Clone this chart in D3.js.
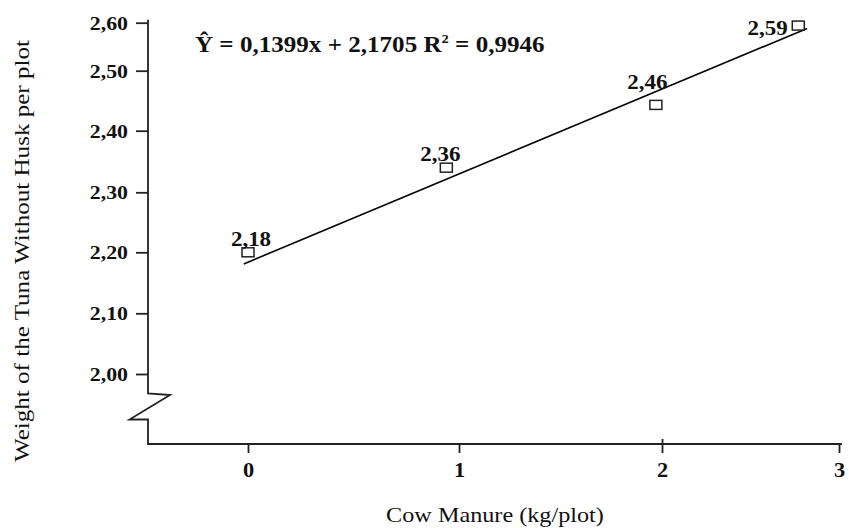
<!DOCTYPE html>
<html>
<head>
<meta charset="utf-8">
<script src="https://cdn.jsdelivr.net/npm/d3@7"></script>
<style>
  html, body { margin: 0; padding: 0; background: #fff; }
  svg { display: block; font-family: 'Liberation Serif', 'Times New Roman', serif; }
</style>
</head>
<body>
<svg class="chart" width="849" height="528"></svg>
<script>
// tick values
const xTicks = [0, 1, 2, 3]
const yTicks = [2.0, 2.1, 2.2, 2.3, 2.4, 2.5, 2.6]

const doses = [0, 0.94, 1.97, 2.77]
const weights = [2.20, 2.34, 2.443, 2.594]
const weightLabels = ['2,18', '2,36', '2,46', '2,59']

// fitted line ends as drawn
const fitX = [-0.02, 2.82]
const fitY = [2.181, 2.588]

const equation = 'Ŷ = 0,1399x + 2,1705 R'
const r2Text = ' = 0,9946'

const stretch = 1.12
const axisX = 148
const axisY = 444

const svg = d3.select('svg.chart')

// the original axes are not evenly spaced, so use piecewise scales
const x = d3.scaleLinear().domain(xTicks).range([248, 459, 662, 839])
const y = d3.scaleLinear().domain(yTicks).range([374, 313.3, 252.3, 192.3, 130.7, 70.7, 22.7])

const widen = (sel, k = stretch) => sel.each(function () {
  const w = this.getComputedTextLength()
  d3.select(this).attr('textLength', w * k).attr('lengthAdjust', 'spacingAndGlyphs')
})

// y axis
const yAxis = d3.axisLeft(y)
  .tickValues(yTicks.slice())
  .tickSize(12)
  .tickFormat(d => d.toFixed(2).replace('.', ','))
const yG = svg.append('g').attr('transform', `translate(${axisX},0)`).call(yAxis)
yG.select('.domain').remove()
yG.selectAll('.tick line').attr('stroke', '#222').attr('stroke-width', 1.8)
yG.selectAll('.tick text')
  .attr('x', -20)
  .attr('dy', '0.34em')
  .attr('fill', '#111')
  .style('font-family', 'Liberation Serif')
  .style('font-size', '19.5px')
  .style('font-weight', 'bold')
  .call(widen)

// x axis
const xAxis = d3.axisBottom(x).tickValues(xTicks).tickSize(9).tickFormat(d3.format('d'))
const xG = svg.append('g').attr('transform', `translate(0,${axisY})`).call(xAxis)
xG.select('.domain').remove()
xG.selectAll('.tick line').attr('stroke', '#222').attr('stroke-width', 1.8)
  .attr('y1', d => d === 2 ? -5 : 0)
xG.selectAll('.tick text')
  .attr('y', 33)
  .attr('dy', 0)
  .attr('fill', '#111')
  .style('font-family', 'Liberation Serif')
  .style('font-size', '20px')
  .style('font-weight', 'bold')
  .call(widen)

// axis lines with the break on the y axis
const brk = y(2.0) + 19.5
const axisPath = d3.path()
axisPath.moveTo(axisX, y(2.6) - 3)
axisPath.lineTo(axisX, brk)
axisPath.lineTo(axisX + 22, brk + 1.5)
axisPath.lineTo(axisX - 18.5, brk + 26)
axisPath.lineTo(axisX, brk + 26)
axisPath.lineTo(axisX, axisY)
axisPath.lineTo(x(3) + 3, axisY)
svg.append('path')
  .attr('d', axisPath.toString())
  .attr('fill', 'none')
  .attr('stroke', '#222')
  .attr('stroke-width', 1.8)
  .attr('stroke-linejoin', 'miter')

// regression line
svg.append('line')
  .attr('x1', x(fitX[0])).attr('y1', y(fitY[0]))
  .attr('x2', x(fitX[1])).attr('y2', y(fitY[1]))
  .attr('stroke', '#000')
  .attr('stroke-width', 1.6)

// markers
const pts = doses.map((d, i) => ({ dose: d, w: weights[i], label: weightLabels[i] }))
svg.selectAll('rect.marker').data(pts).enter().append('rect')
  .attr('class', 'marker')
  .attr('x', d => x(d.dose) - 6)
  .attr('y', d => y(d.w) - 4.5)
  .attr('width', 12)
  .attr('height', 9)
  .attr('fill', 'none')
  .attr('stroke', '#222')
  .attr('stroke-width', 1.5)

// value labels (offsets relative to each marker, as placed in the original)
const labelPlace = [
  { dx: 3, dy: -6, anchor: 'middle' },
  { dx: -6, dy: -7, anchor: 'middle' },
  { dx: -8.5, dy: -16, anchor: 'middle' },
  { dx: -10.5, dy: 9, anchor: 'end' }
]
svg.selectAll('text.value').data(pts).enter().append('text')
  .attr('class', 'value')
  .attr('x', (d, i) => x(d.dose) + labelPlace[i].dx)
  .attr('y', (d, i) => y(d.w) + labelPlace[i].dy)
  .attr('text-anchor', (d, i) => labelPlace[i].anchor)
  .attr('fill', '#111')
  .style('font-size', '20.5px')
  .style('font-weight', 'bold')
  .text(d => d.label)
  .call(widen)

// equation
const eq = svg.append('text')
  .attr('transform', `translate(195,52) scale(${stretch},1)`)
  .attr('fill', '#111')
  .style('font-size', '22.4px')
  .style('font-weight', 'bold')
eq.append('tspan').text(equation)
eq.append('tspan').attr('dy', -9).style('font-size', '13px').text('2')
eq.append('tspan').attr('dy', 9).style('white-space', 'pre').text(r2Text)

// axis titles
svg.append('text')
  .attr('x', 495)
  .attr('y', 522)
  .attr('text-anchor', 'middle')
  .attr('fill', '#111')
  .style('font-size', '22px')
  .text('Cow Manure (kg/plot)')
  .call(widen, 1.1)

svg.append('text')
  .attr('transform', 'translate(29,251) rotate(-90)')
  .attr('text-anchor', 'middle')
  .attr('fill', '#111')
  .style('font-size', '22px')
  .text('Weight of the Tuna Without Husk per plot')
  .attr('textLength', 422)
  .attr('lengthAdjust', 'spacingAndGlyphs')
</script>
</body>
</html>
